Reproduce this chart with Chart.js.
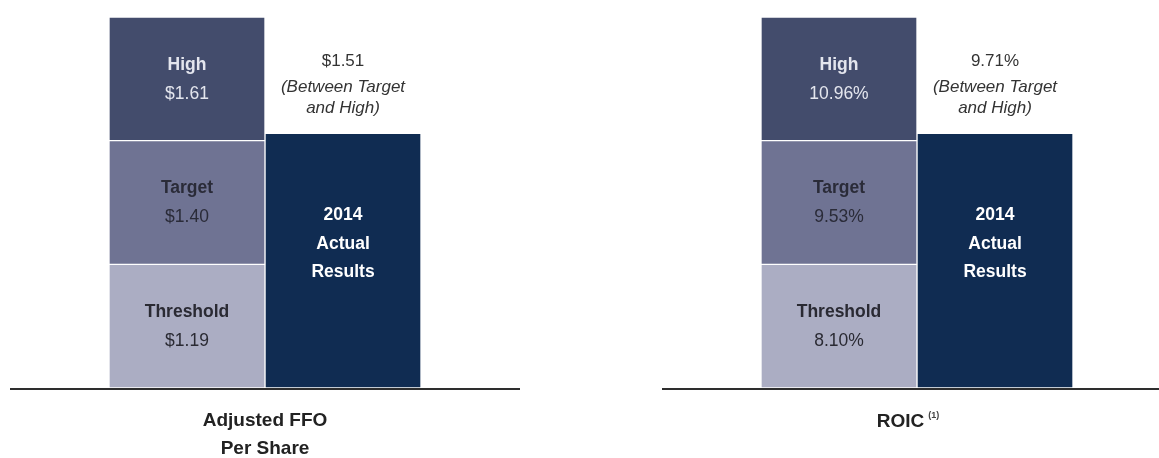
<!DOCTYPE html>
<html>
<head>
<meta charset="utf-8">
<script src="https://cdn.jsdelivr.net/npm/chart.js@4/dist/chart.umd.min.js"></script>
<style>
  html, body { margin: 0; padding: 0; background: #fff; overflow: hidden; width: 1159px; height: 458px; }
  canvas { position: absolute; top: 0; }
  #ffoChart { left: 10px; }
  #roicChart { left: 662px; }
</style>
</head>
<body>
<canvas id="ffoChart" width="510" height="458"></canvas>
<canvas id="roicChart" width="510" height="458"></canvas>
<script>
  // bars: left = goal bands stacked, right = actual result
  const categories = ['Goals', 'Actual'];
  const bandNames = ['Threshold', 'Target', 'High'];
  // schematic chart: every band has the same height
  const bandHeights = [1, 1, 1];
  const actualHeights = [2.06, 2.06]; // ffo, roic (drawn just above Target)
  const bandColors = ['#abadc3', '#6f7393', '#434c6c'];
  const bandTextColors = ['#2a2a33', '#2a2b38', '#e4e6ee'];
  const actualColor = '#102c52';

  const ffoBandValues = ['$1.19', '$1.40', '$1.61'];
  const roicBandValues = ['8.10%', '9.53%', '10.96%'];
  const ffoActualValue = '$1.51';
  const roicActualValue = '9.71%';
  const actualLines = ['2014', 'Actual', 'Results'];
  const noteLines = ['(Between Target', 'and High)'];
  const ffoTitle = ['Adjusted FFO', 'Per Share'];
  const roicTitle = ['ROIC'];

  const fontFamily = '"Liberation Sans", Arial, Helvetica, sans-serif';

  // 文字和底线
  const labelPlugin = {
    id: 'labels',
    afterDatasetsDraw(chart, args, opts) {
      const ctx = chart.ctx;
      const area = chart.chartArea;
      ctx.save();
      ctx.textAlign = 'center';
      ctx.textBaseline = 'middle';

      // band labels
      bandNames.forEach((name, i) => {
        const bar = chart.getDatasetMeta(i).data[0];
        const cy = (bar.y + bar.base) / 2;
        ctx.fillStyle = bandTextColors[i];
        ctx.font = 'bold 17.5px ' + fontFamily;
        ctx.fillText(name, bar.x, cy - 14);
        ctx.font = '17.5px ' + fontFamily;
        ctx.fillText(opts.bandValues[i], bar.x, cy + 15);
      });

      // actual bar
      const act = chart.getDatasetMeta(bandNames.length).data[1];
      ctx.fillStyle = '#ffffff';
      ctx.font = 'bold 17.5px ' + fontFamily;
      actualLines.forEach((t, i) => ctx.fillText(t, act.x, act.y + 82 + i * 28.5));

      ctx.fillStyle = '#333333';
      ctx.font = '17px ' + fontFamily;
      ctx.fillText(opts.actualValue, act.x, act.y - 72);
      ctx.font = 'italic 17px ' + fontFamily;
      noteLines.forEach((t, i) => ctx.fillText(t, act.x, act.y - 46 + i * 21.5));

      // baseline
      ctx.strokeStyle = '#2e2e2e';
      ctx.lineWidth = 2;
      ctx.beginPath();
      ctx.moveTo(0, area.bottom + 1);
      ctx.lineTo(chart.width, area.bottom + 1);
      ctx.stroke();

      // panel title
      const cx = (area.left + area.right) / 2;
      ctx.fillStyle = '#222222';
      ctx.font = 'bold 19px ' + fontFamily;
      if (opts.sup) {
        const w = ctx.measureText(opts.title[0]).width;
        ctx.font = 'bold 9px ' + fontFamily;
        const sw = ctx.measureText(opts.sup).width + 4;
        const x0 = cx - 9 - (w + sw) / 2;
        ctx.textAlign = 'left';
        ctx.font = 'bold 19px ' + fontFamily;
        ctx.fillText(opts.title[0], x0, area.bottom + 34);
        ctx.fillStyle = '#444444';
        ctx.font = 'bold 9px ' + fontFamily;
        ctx.fillText(opts.sup, x0 + w + 4, area.bottom + 28);
      } else {
        opts.title.forEach((t, i) => ctx.fillText(t, cx, area.bottom + 33 + i * 28));
      }
      ctx.restore();
    }
  };

  function makeChart(id, bandValues, actualHeight, actualValue, title, sup) {
    const datasets = bandNames.map((name, i) => ({
      label: name,
      data: [bandHeights[i], null],
      backgroundColor: bandColors[i],
      borderColor: '#ffffff',
      borderWidth: 1,
      borderSkipped: false
    }));
    datasets.push({
      label: 'Actual',
      data: [null, actualHeight],
      backgroundColor: actualColor,
      borderColor: '#ffffff',
      borderWidth: 1,
      borderSkipped: false
    });

    return new Chart(document.getElementById(id), {
      type: 'bar',
      data: { labels: categories, datasets: datasets },
      options: {
        responsive: false,
        animation: false,
        categoryPercentage: 1,
        barPercentage: 1,
        layout: { padding: { top: 17, bottom: 70, left: 99, right: 99 } },
        scales: {
          x: { stacked: true, display: false },
          y: { stacked: true, display: false, min: 0, max: 3 }
        },
        plugins: {
          legend: { display: false },
          tooltip: { enabled: false },
          labels: { bandValues, actualValue, title, sup }
        }
      },
      plugins: [labelPlugin]
    });
  }

  makeChart('ffoChart', ffoBandValues, actualHeights[0], ffoActualValue, ffoTitle, null);
  makeChart('roicChart', roicBandValues, actualHeights[1], roicActualValue, roicTitle, '(1)');
</script>
</body>
</html>
